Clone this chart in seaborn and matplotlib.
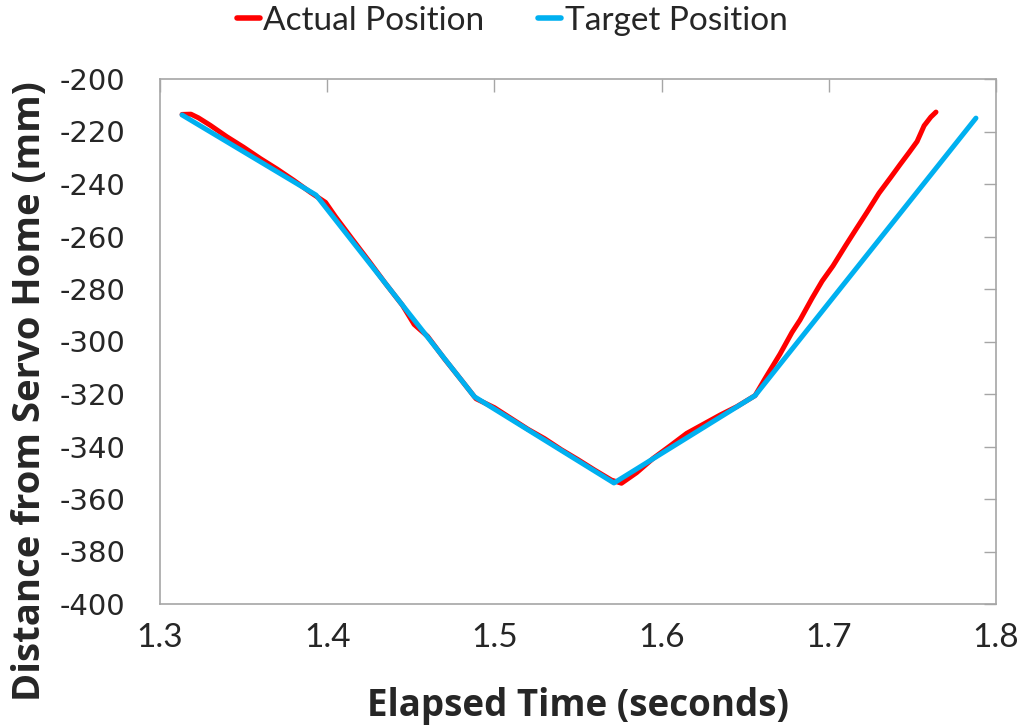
import numpy as np
import pandas as pd
import seaborn as sns
import matplotlib.pyplot as plt

actual_time = [1.3132, 1.3185, 1.3230, 1.3300, 1.3400, 1.3500, 1.3600, 1.3700, 1.3800, 1.3900,
               1.3990, 1.4050, 1.4150, 1.4250, 1.4350, 1.4450, 1.4520, 1.4600, 1.4700, 1.4800,
               1.4890, 1.5000, 1.5100, 1.5200, 1.5300, 1.5400, 1.5500, 1.5600, 1.5700, 1.5760,
               1.5850, 1.5950, 1.6050, 1.6150, 1.6250, 1.6350, 1.6450, 1.6559, 1.6620, 1.6708,
               1.6780, 1.6828, 1.6900, 1.6960, 1.7025, 1.7100, 1.7160, 1.7228, 1.7300, 1.7370,
               1.7426, 1.7480, 1.7528, 1.7570, 1.7610, 1.7641]
actual_pos = [-213.5, -213.4, -214.8, -217.6, -222.0, -226.0, -230.3, -234.3, -238.6, -243.2,
              -247.0, -252.5, -261.0, -269.4, -278.0, -286.2, -293.5, -298.0, -306.5, -314.5,
              -321.8, -325.2, -329.3, -333.4, -337.0, -341.2, -345.0, -349.0, -352.8, -354.0,
              -350.0, -344.5, -339.8, -335.0, -331.5, -328.0, -324.8, -320.6, -314.0, -304.8,
              -296.5, -291.8, -283.5, -277.0, -271.2, -263.5, -257.5, -250.8, -243.5, -237.5,
              -232.6, -228.0, -223.8, -217.8, -214.5, -212.6]

target_time = [1.3132, 1.3933, 1.4880, 1.5715, 1.6559, 1.7880]
target_pos = [-213.7, -244.2, -321.0, -353.9, -320.6, -214.9]

x_ticks = [1.3, 1.4, 1.5, 1.6, 1.7, 1.8]
y_ticks = [-400, -380, -360, -340, -320, -300, -280, -260, -240, -220, -200]

df = pd.concat([
    pd.DataFrame({"time": actual_time, "pos": actual_pos, "series": "Actual Position"}),
    pd.DataFrame({"time": target_time, "pos": target_pos, "series": "Target Position"}),
])

sns.set_style("white")
plt.rcParams['font.family'] = ['Open Sans', 'DejaVu Sans']

fig = plt.figure(figsize=(10.24, 7.28), dpi=100)
ax = fig.add_axes([160/1024, 1-604/728, 836/1024, 525/728])

sns.lineplot(data=df, x="time", y="pos", hue="series", sort=False, ax=ax,
             palette={"Actual Position": "#FF0000", "Target Position": "#00B0F0"},
             linewidth=3.6, estimator=None)

ax.set_xlim(1.3, 1.8)
ax.set_ylim(-400, -200)
ax.set_xticks(x_ticks)
ax.set_yticks(y_ticks)
ax.set_xticklabels([f"{v:.1f}" for v in x_ticks], fontsize=24, family='Lato')
ax.set_yticklabels([str(v) for v in y_ticks], fontsize=21, family='DejaVu Sans')
ax.tick_params(axis='both', direction='in', length=9, color='#A6A6A6', width=1,
               top=True, right=True)
ax.tick_params(axis='x', pad=14)
ax.tick_params(axis='y', pad=25)
for s in ax.spines.values():
    s.set_color('#A6A6A6')
    s.set_linewidth(1.2)

ax.set_xlabel("")
ax.set_ylabel("")
fig.text(578/1024, 1 - 706/728, "Elapsed Time (seconds)", ha='center', va='center',
         fontsize=26.5, fontweight='bold')
fig.text(30/1024, 1 - 391/728, "Distance from Servo Home (mm)", ha='center', va='center',
         rotation=90, fontsize=27.5, fontweight='bold')

leg = ax.legend(loc='center', bbox_to_anchor=(512/1024, 1 - 21/728), bbox_transform=fig.transFigure,
                ncol=2, frameon=False, handlelength=0.7, handletextpad=0.1, columnspacing=1.6,
                prop={'family': 'Lato', 'size': 24})
for line in leg.get_lines():
    line.set_linewidth(4)

fig.savefig("out.png", dpi=100)
